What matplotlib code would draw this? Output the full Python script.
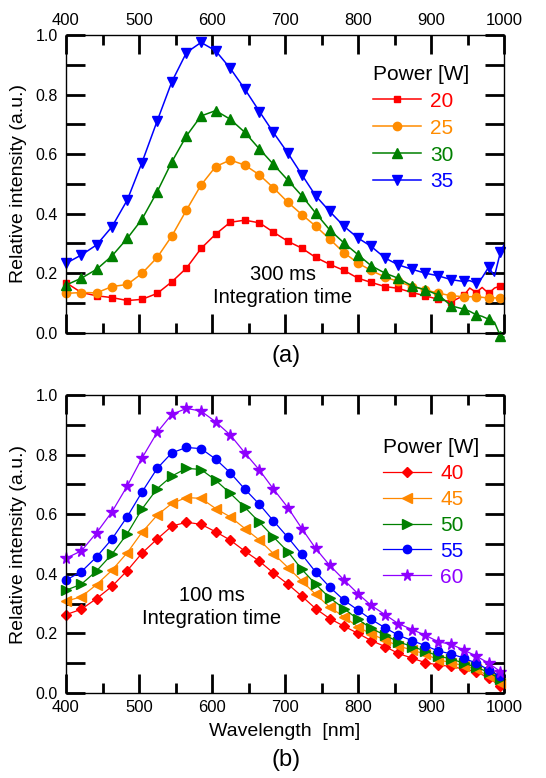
import matplotlib
matplotlib.use("Agg")
import matplotlib.pyplot as plt
from matplotlib.ticker import MultipleLocator

plt.rcParams['font.family'] = ['Liberation Sans', 'DejaVu Sans']

# ---- panel (a): 300 ms integration ----
wl_a = [400, 421, 442, 463, 484, 504, 525, 545, 565, 585, 605, 625, 645, 665, 684, 704,
        723, 742, 761, 781, 800, 818, 837, 855, 874, 892, 910, 928, 945, 953, 962, 970,
        979, 987, 995, 1000]
marks_a = [i for i, w in enumerate(wl_a) if w not in (953, 970, 987, 1000)]
power_a = ['20', '25', '30', '35']
p20 = [0.168, 0.135, 0.124, 0.118, 0.108, 0.112, 0.132, 0.171, 0.217, 0.283, 0.331, 0.371,
       0.378, 0.369, 0.338, 0.307, 0.284, 0.253, 0.230, 0.209, 0.183, 0.169, 0.155, 0.149,
       0.135, 0.124, 0.112, 0.104, 0.125, 0.150, 0.135, 0.152, 0.132, 0.150, 0.157, 0.160]
p25 = [0.132, 0.135, 0.134, 0.155, 0.162, 0.199, 0.253, 0.325, 0.412, 0.496, 0.558, 0.580,
       0.563, 0.530, 0.487, 0.438, 0.397, 0.358, 0.315, 0.268, 0.234, 0.209, 0.187, 0.172,
       0.155, 0.144, 0.133, 0.124, 0.121, 0.121, 0.121, 0.119, 0.116, 0.117, 0.116, 0.115]
p30 = [0.160, 0.183, 0.213, 0.258, 0.317, 0.381, 0.474, 0.574, 0.661, 0.728, 0.746, 0.717,
       0.673, 0.617, 0.566, 0.512, 0.460, 0.402, 0.346, 0.301, 0.262, 0.225, 0.200, 0.183,
       0.157, 0.144, 0.127, 0.090, 0.079, 0.072, 0.060, 0.055, 0.045, 0.035, -0.011, -0.015]
p35 = [0.233, 0.261, 0.295, 0.356, 0.446, 0.571, 0.712, 0.843, 0.941, 0.975, 0.947, 0.888,
       0.818, 0.743, 0.673, 0.603, 0.531, 0.460, 0.408, 0.357, 0.318, 0.290, 0.251, 0.228,
       0.213, 0.200, 0.191, 0.178, 0.172, 0.175, 0.166, 0.185, 0.220, 0.190, 0.270, 0.295]

# ---- panel (b): 100 ms integration ----
wl_b = [400, 421, 442, 463, 484, 504, 525, 545, 565, 585, 605, 625, 645, 665, 684, 704,
        723, 742, 761, 781, 800, 818, 837, 855, 874, 892, 910, 928, 945, 962, 979, 995]
power_b = ['40', '45', '50', '55', '60']
p40 = [0.263, 0.281, 0.317, 0.358, 0.411, 0.469, 0.517, 0.560, 0.573, 0.566, 0.541, 0.513,
       0.476, 0.442, 0.403, 0.365, 0.325, 0.283, 0.250, 0.224, 0.200, 0.176, 0.156, 0.133,
       0.117, 0.102, 0.094, 0.089, 0.080, 0.072, 0.050, 0.024]
p45 = [0.308, 0.323, 0.364, 0.412, 0.471, 0.539, 0.597, 0.636, 0.656, 0.653, 0.619, 0.591,
       0.552, 0.513, 0.468, 0.421, 0.376, 0.331, 0.289, 0.255, 0.222, 0.198, 0.178, 0.158,
       0.144, 0.131, 0.111, 0.102, 0.091, 0.080, 0.056, 0.033]
p50 = [0.345, 0.365, 0.410, 0.466, 0.535, 0.617, 0.686, 0.728, 0.754, 0.750, 0.714, 0.670,
       0.623, 0.573, 0.524, 0.474, 0.415, 0.365, 0.320, 0.283, 0.247, 0.217, 0.194, 0.172,
       0.156, 0.141, 0.124, 0.114, 0.100, 0.087, 0.069, 0.047]
p55 = [0.379, 0.407, 0.457, 0.517, 0.592, 0.674, 0.754, 0.806, 0.824, 0.820, 0.785, 0.739,
       0.684, 0.633, 0.578, 0.522, 0.465, 0.406, 0.356, 0.311, 0.278, 0.247, 0.219, 0.194,
       0.176, 0.159, 0.141, 0.131, 0.117, 0.100, 0.078, 0.056]
p60 = [0.452, 0.477, 0.538, 0.608, 0.695, 0.788, 0.875, 0.935, 0.955, 0.946, 0.910, 0.866,
       0.806, 0.748, 0.685, 0.622, 0.552, 0.485, 0.429, 0.379, 0.333, 0.294, 0.263, 0.233,
       0.213, 0.194, 0.172, 0.163, 0.144, 0.124, 0.100, 0.072]

W, H = 546, 778
fig = plt.figure(figsize=(W / 100, H / 100), dpi=100)


def px_axes(left, top, right, bottom):
    return fig.add_axes([left / W, 1 - bottom / H, (right - left) / W, (bottom - top) / H])


def style_axes(ax, labels_on_top):
    ax.set_xlim(400, 1000)
    ax.set_ylim(0, 1.0)
    ax.xaxis.set_major_locator(MultipleLocator(100))
    ax.xaxis.set_minor_locator(MultipleLocator(50))
    ax.yaxis.set_major_locator(MultipleLocator(0.2))
    ax.yaxis.set_minor_locator(MultipleLocator(0.1))
    ax.yaxis.set_major_formatter(lambda v, p: f"{v:.1f}")
    ax.tick_params(which='both', direction='in', color='black', width=2.0,
                   top=True, bottom=True, left=True, right=True)
    ax.tick_params(axis='x', which='major', length=14, labelsize=12, pad=5,
                   labeltop=labels_on_top, labelbottom=not labels_on_top)
    ax.tick_params(axis='x', which='minor', length=7)
    ax.tick_params(axis='y', which='both', length=14, labelsize=11.5, pad=6)
    for sp in ax.spines.values():
        sp.set_linewidth(1.0)
    ax.set_ylabel('Relative intensity (a.u.)', fontsize=14, labelpad=6)


# ---------- (a) ----------
ax_a = px_axes(66, 35, 504, 332.7)
cols_a = ['#ff0000', '#ff8c00', '#008000', '#0000ff']
mk_a = ['s', 'o', '^', 'v']
ms_a = [5, 6, 7, 7]
for ser, c, m, s, lab in zip([p20, p25, p30, p35], cols_a, mk_a, ms_a, power_a):
    ax_a.plot(wl_a, ser, color=c, marker=m, ms=s, lw=1.1, markevery=marks_a,
              label=lab, clip_on=False)
style_axes(ax_a, True)
leg = ax_a.legend(title='Power [W]', frameon=False, loc='upper left',
                  bbox_to_anchor=(0.70, 0.90), fontsize=15, title_fontsize=15,
                  handlelength=2.3, handletextpad=0.45, labelspacing=0.38,
                  borderpad=0, borderaxespad=0, alignment='left')
for t, c in zip(leg.get_texts(), cols_a):
    t.set_color(c)
fig.text(283 / W, 1 - 286 / H, '300 ms\nIntegration time', ha='center', va='center',
         fontsize=14.5, linespacing=1.25)
fig.text(286 / W, 1 - 356 / H, '(a)', ha='center', va='center', fontsize=17)

# ---------- (b) ----------
ax_b = px_axes(66, 395, 504, 693)
cols_b = ['#ff0000', '#ff8800', '#008000', '#0000ff', '#8f00ff']
mk_b = ['D', '<', '>', 'o', '*']
ms_b = [5.5, 7, 7, 6, 8.5]
for ser, c, m, s, lab in zip([p40, p45, p50, p55, p60], cols_b, mk_b, ms_b, power_b):
    ax_b.plot(wl_b, ser, color=c, marker=m, ms=s, lw=0.9, label=lab, clip_on=False)
style_axes(ax_b, False)
ax_b.set_xlabel('Wavelength  [nm]', fontsize=14, labelpad=6)
leg = ax_b.legend(title='Power [W]', frameon=False, loc='upper left',
                  bbox_to_anchor=(0.724, 0.855), fontsize=15, title_fontsize=15,
                  handlelength=2.3, handletextpad=0.45, labelspacing=0.33,
                  borderpad=0, borderaxespad=0, alignment='left')
for t, c in zip(leg.get_texts(), cols_b):
    t.set_color(c)
fig.text(212 / W, 1 - 607 / H, '100 ms\nIntegration time', ha='center', va='center',
         fontsize=14.5, linespacing=1.25)
fig.text(286 / W, 1 - 760 / H, '(b)', ha='center', va='center', fontsize=17)

fig.savefig('out.png', dpi=100)
